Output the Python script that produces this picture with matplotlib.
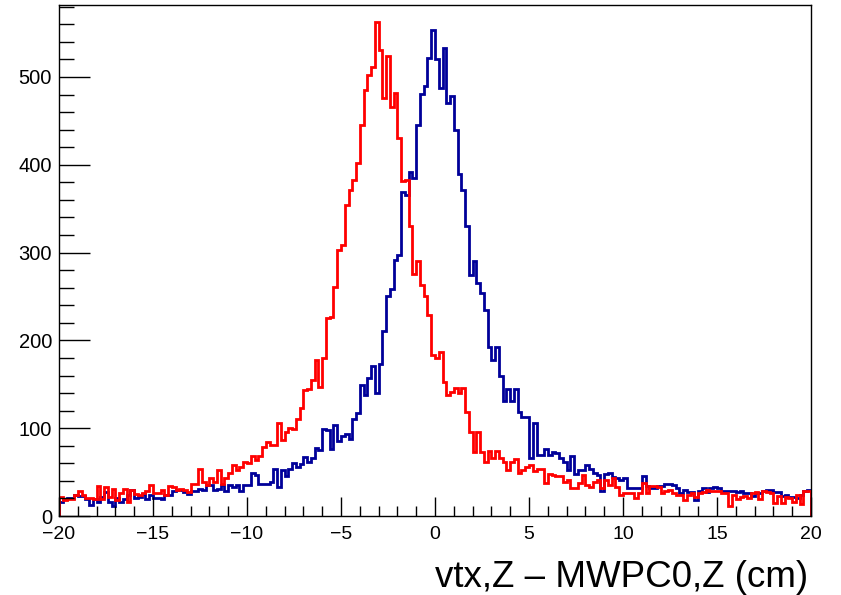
import numpy as np
import matplotlib
matplotlib.use("Agg")
import matplotlib.pyplot as plt
from matplotlib.ticker import MultipleLocator, FixedLocator

# ---- data: 200 bins of 0.2 cm from -20 to 20 ----
x_min, x_max, n_bins = -20.0, 20.0, 200

red_counts = [
    # -20 .. -14.6
    22, 18, 19, 19, 24, 28, 24, 21, 20, 19, 34, 19, 33, 22, 31, 18, 26, 31, 16, 30, 25, 24, 26, 29, 35, 26, 26,
    # -14.6 .. -9.6
    30, 24, 34, 33, 30, 31, 30, 27, 36, 37, 54, 39, 35, 43, 39, 52, 37, 43, 49, 58, 52, 56, 61, 60, 68,
    # -9.6 .. -5.6
    64, 68, 79, 84, 81, 81, 106, 86, 96, 100, 99, 111, 123, 143, 145, 155, 178, 147, 180, 225,
    # -5.6 .. -1.8
    227, 261, 303, 309, 354, 371, 383, 402, 445, 485, 502, 511, 563, 531, 476, 524, 466, 482, 430,
    # -1.8 .. 1.6
    381, 383, 330, 276, 290, 263, 250, 229, 183, 180, 187, 153, 138, 141, 146, 140, 146,
    # 1.6 .. 5.4
    119, 96, 73, 96, 73, 62, 74, 66, 74, 66, 62, 52, 62, 65, 49, 52, 56, 58, 51,
    # 5.4 .. 10
    53, 53, 38, 48, 47, 45, 46, 39, 41, 32, 32, 38, 47, 35, 33, 39, 41, 32, 41, 35, 43, 33, 24,
    # 10 .. 15
    26, 26, 26, 21, 26, 38, 26, 34, 34, 33, 26, 28, 30, 26, 24, 24, 18, 24, 26, 22, 26, 27, 30, 28, 28,
    # 15 .. 20
    28, 26, 26, 11, 24, 19, 22, 23, 20, 26, 27, 19, 28, 27, 26, 15, 23, 15, 22, 20, 16, 24, 14, 28, 28,
]

blue_counts = [
    16, 19, 20, 20, 24, 23, 23, 19, 12, 19, 16, 22, 27, 16, 11, 20, 16, 19, 24, 30, 20, 22, 25, 19, 24, 20, 20,
    19, 24, 24, 28, 30, 30, 27, 25, 28, 28, 31, 30, 35, 35, 30, 31, 35, 28, 35, 33, 35, 28, 35, 35, 49,
    47, 37, 36, 37, 39, 53, 33, 52, 45, 54, 60, 56, 59, 67, 62, 66, 77, 75, 99, 98,
    76, 104, 85, 91, 93, 88, 110, 117, 149, 138, 157, 171, 140, 173, 211, 250, 259, 292, 297,
    369, 366, 392, 385, 445, 481, 490, 522, 554, 521, 488, 533, 470, 478, 440, 389, 371,
    330, 274, 290, 265, 254, 235, 193, 178, 193, 159, 131, 145, 131, 145, 119, 113, 113, 66, 106,
    70, 70, 76, 70, 73, 72, 66, 62, 52, 68, 48, 52, 52, 58, 54, 49, 47, 29, 48, 49, 44, 43, 41,
    43, 32, 32, 32, 32, 45, 34, 32, 32, 34, 34, 37, 37, 35, 32, 26, 30, 27, 27, 18, 28, 32, 27, 32, 33,
    32, 28, 29, 28, 28, 27, 28, 26, 26, 23, 26, 26, 28, 30, 30, 27, 27, 23, 24, 22, 22, 21, 24, 28, 30,
]

x_major_ticks = [-20, -15, -10, -5, 0, 5, 10, 15, 20]
x_tick_labels = ["\u221220", "\u221215", "\u221210", "\u22125", "0", "5", "10", "15", "20"]
y_major_ticks = [0, 100, 200, 300, 400, 500]
y_tick_labels = ["0", "100", "200", "300", "400", "500"]
x_title = "vtx,Z \u2013 MWPC0,Z (cm)"

# ---- figure ----
plt.rcParams['font.family'] = ['Liberation Sans', 'DejaVu Sans']
W, H = 841, 595
fig = plt.figure(figsize=(W / 100, H / 100), dpi=100)
ax = fig.add_axes([59 / W, 1 - 516 / H, (811 - 59) / W, (516 - 5) / H])

edges = np.linspace(x_min, x_max, n_bins + 1)
ax.stairs(blue_counts, edges, color="#000099", linewidth=2.0, baseline=0)
ax.stairs(red_counts, edges, color="#ff0000", linewidth=2.0, baseline=0)

ax.set_xlim(x_min, x_max)
ax.set_ylim(0, 582)

ax.xaxis.set_major_locator(FixedLocator(x_major_ticks))
ax.set_xticklabels(x_tick_labels)
ax.xaxis.set_minor_locator(MultipleLocator(1))
ax.yaxis.set_major_locator(FixedLocator(y_major_ticks))
ax.set_yticklabels(y_tick_labels)
ax.yaxis.set_minor_locator(MultipleLocator(20))

ax.tick_params(axis='x', which='major', direction='in', length=14, width=1, labelsize=14, pad=7,
               top=False, bottom=True)
ax.tick_params(axis='x', which='minor', direction='in', length=7, width=1, top=False, bottom=True)
ax.tick_params(axis='y', which='major', direction='in', length=22, width=1, labelsize=14.5, pad=5,
               left=True, right=False)
ax.tick_params(axis='y', which='minor', direction='in', length=11, width=1, left=True, right=False)
for s in ax.spines.values():
    s.set_linewidth(1.0)

fig.text(808 / W, 1 - 587 / H, x_title, ha='right', va='baseline', fontsize=26.5)

fig.savefig("out.png", dpi=100)
